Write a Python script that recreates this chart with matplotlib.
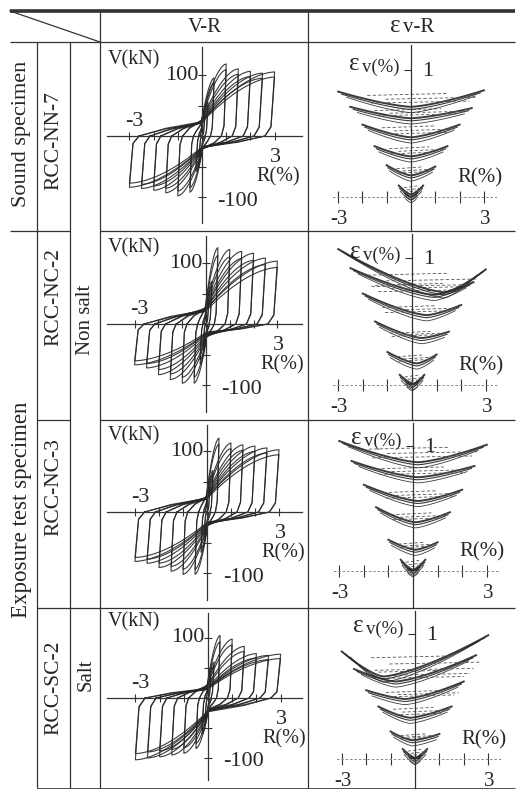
import matplotlib
matplotlib.use("Agg")
import matplotlib.pyplot as plt
import numpy as np

plt.rcParams['font.family'] = ['Liberation Serif', 'DejaVu Serif']

W, H = 522, 790

# specimen rows
row_names = ["RCC-NN-7", "RCC-NC-2", "RCC-NC-3", "RCC-SC-2"]
row_edges = [42, 231, 420, 608, 788]

# drift amplitudes of the cycles (%)
amps = [0.125, 0.25, 0.5, 1.0, 1.5, 2.0, 2.5, 3.0]

# V-R peaks, first cycle at each amplitude (kN)
vpos = [
    [35, 55, 95, 118, 110, 106, 103, 105],
    [40, 70, 125, 122, 119, 116, 108, 103],
    [40, 68, 121, 113, 110, 108, 105, 102],
    [35, 60, 104, 98, 86, 74, 71, 73],
]
vneg = [
    [-35, -58, -92, -98, -93, -89, -86, -84],
    [-40, -65, -97, -97, -91, -83, -72, -67],
    [-40, -66, -102, -102, -97, -91, -84, -81],
    [-35, -60, -84, -92, -95, -98, -100, -103],
]
cyc2 = [0.92, 0.9, 0.92, 0.9]   # second-cycle peak ratio

# ev-R: per amplitude, strain at -R end, +R end, minimum and where the minimum sits
ev_amps = [0.25, 0.5, 1.0, 1.5, 2.0, 2.5, 3.0]
ev_left = [
    [0.03, 0.09, 0.25, 0.40, 0.57, 0.71, 0.83],
    [0.03, 0.08, 0.26, 0.50, 0.72, 0.92, 1.07],
    [0.03, 0.09, 0.25, 0.51, 0.69, 0.88, 1.04],
    [0.03, 0.08, 0.22, 0.42, 0.55, 0.72, 0.86],
]
ev_right = [
    [0.03, 0.09, 0.24, 0.40, 0.57, 0.70, 0.84],
    [0.03, 0.08, 0.24, 0.42, 0.63, 0.81, 0.91],
    [0.03, 0.09, 0.23, 0.47, 0.65, 0.84, 1.01],
    [0.03, 0.08, 0.20, 0.42, 0.62, 0.83, 0.99],
]
ev_min = [
    [0.0, 0.02, 0.17, 0.32, 0.47, 0.62, 0.71],
    [0.0, 0.01, 0.17, 0.37, 0.55, 0.71, 0.73],
    [0.0, 0.01, 0.17, 0.39, 0.56, 0.75, 0.87],
    [0.0, 0.01, 0.15, 0.33, 0.48, 0.62, 0.66],
]
ev_mpos = [
    [0.0, 0.0, 0.0, 0.0, 0.0, 0.0, 0.0],
    [0.0, 0.05, 0.2, 0.4, 0.6, 0.9, 1.3],
    [0.0, 0.0, 0.1, 0.1, 0.2, 0.2, 0.2],
    [0.0, 0.0, -0.1, -0.2, -0.4, -0.8, -1.3],
]

# pixel layout of the plots: origin x, origin y, px per % drift, px per unit
vr_origin = [(202, 136), (206, 324), (207, 512), (208, 698)]
vr_rpx = [24.2, 23.8, 24.0, 24.2]
vr_vpx = [0.61, 0.61, 0.61, 0.60]
ev_origin = [(411, 197), (412, 385), (413, 571), (415, 759)]
ev_rpx = [24.3, 24.6, 24.6, 24.4]
ev_epx = [127, 127, 125, 125]

ink = '#262626'
fig = plt.figure(figsize=(W / 100, H / 100), dpi=100)
tab = fig.add_axes([0, 0, 1, 1])
tab.set_xlim(0, W)
tab.set_ylim(H, 0)
tab.axis('off')

def hl(y, x0, x1, lw=0.9):
    tab.plot([x0, x1], [y, y], color='#333333', lw=lw, solid_capstyle='butt')

def vl(x, y0, y1, lw=0.9):
    tab.plot([x, x], [y0, y1], color='#333333', lw=lw, solid_capstyle='butt')

hl(11, 10, 515, lw=2.6)
hl(42, 10, 515)
hl(231, 10, 70)
hl(231, 100, 515)
hl(420, 37, 70)
hl(420, 100, 515)
hl(608, 37, 515)
hl(788, 37, 515, lw=0.6)
vl(37, 42, 788)
vl(70, 42, 788)
vl(100, 11, 788)
vl(308, 11, 788)
tab.plot([10, 100], [11, 42], color='#333333', lw=0.9)

tab.text(205, 27, "V-R", ha='center', va='center', fontsize=15, color=ink)
tab.text(395, 26, "ε", ha='center', va='center', fontsize=18, color=ink)
tab.text(403, 28, "v-R", ha='left', va='center', fontsize=15, color=ink)

tab.text(22, 134, "Sound specimen", rotation=90, ha='center', va='center', fontsize=16, color=ink)
tab.text(22, 510, "Exposure test specimen", rotation=90, ha='center', va='center', fontsize=16.5, color=ink)
label_y = [141, 297, 487, 688]
for name, y in zip(row_names, label_y):
    tab.text(54, y, name, rotation=90, ha='center', va='center', fontsize=15.5, color=ink)
tab.text(86, 320, "Non salt", rotation=90, ha='center', va='center', fontsize=15, color=ink)
tab.text(86, 675, "Salt", rotation=90, ha='center', va='center', fontsize=15, color=ink)


def add_ax(px0, py0, px1, py1):
    return fig.add_axes([px0 / W, 1 - py1 / H, (px1 - px0) / W, (py1 - py0) / H])


def half(r_from, v_from, rp, vp, a=1.7):
    # reload branch from the pinched centre out to the peak
    t = np.linspace(0, 1, 40)
    return list(r_from + (rp - r_from) * t), list(v_from + (vp - v_from) * (1 - (1 - t) ** a))


def loop_path(rp, vp, rn, vn):
    s = min(rp, 1.0)
    xs, ys = [rn * 0.9 + 0.1, rn * 0.5], [0, 0.04 * vp + 0.08 * s * vp]
    hx, hy = half(-0.03, 0.22 * vp, rp, vp)
    xs += hx; ys += hy
    xs += [rp - 0.06 - 0.03 * rp, rp * 0.9 - 0.1, rp * 0.5]
    ys += [0.15 * vp, 0, 0.04 * vn + 0.08 * s * vn]
    hx, hy = half(0.03, 0.22 * vn, rn, vn)
    xs += hx; ys += hy
    xs += [rn + 0.06 + 0.03 * abs(rn), rn * 0.9 + 0.1]
    ys += [0.15 * vn, 0]
    return np.array(xs), np.array(ys)


for i in range(4):
    ox, oy = vr_origin[i]
    rpx, vpx = vr_rpx[i], vr_vpx[i]
    top, bot = row_edges[i] + 5, row_edges[i + 1] - 8
    x0, x1 = 107, 302
    ax = add_ax(x0, top, x1, bot)
    ax.set_xlim((x0 - ox) / rpx, (x1 - ox) / rpx)
    ax.set_ylim((oy - bot) / vpx, (oy - top) / vpx)
    ax.patch.set_alpha(0)
    for s in ['top', 'right']:
        ax.spines[s].set_visible(False)
    ax.spines['left'].set_position(('data', 0))
    ax.spines['bottom'].set_position(('data', 0))
    for s in ['left', 'bottom']:
        ax.spines[s].set_color('#333333')
        ax.spines[s].set_linewidth(0.9)
    ax.set_xticks([-3, -2, -1, 1, 2, 3])
    ax.set_yticks([-100, -50, 50, 100])
    ax.tick_params(direction='inout', length=6, width=0.8, color='#333333',
                   labelbottom=False, labelleft=False)
    for k, r in enumerate(amps):
        for f in (1.0, cyc2[i]):
            lx, ly = loop_path(r, vpos[i][k] * f, -r, vneg[i][k] * f)
            ax.plot(lx, ly, color=ink, lw=0.8, alpha=0.9)

    tab.text(108, oy - 76, "V(kN)", ha='left', va='center', fontsize=14.5, color=ink)
    tab.text(ox - 4, oy - 100 * vpx, "100", ha='right', va='center', fontsize=16, color=ink)
    tab.text(ox - 3 * rpx + 5, oy - 14, "-3", ha='center', va='center', fontsize=16, color=ink)
    tab.text(ox + 3 * rpx + 1, oy + 21, "3", ha='center', va='center', fontsize=16, color=ink)
    tab.text(ox + 76, oy + 41, "R(%)", ha='center', va='center', fontsize=14.5, color=ink)
    tab.text(ox + 36, oy + 100 * vpx + 4, "-100", ha='center', va='center', fontsize=16, color=ink)

for i in range(4):
    ox, oy = ev_origin[i]
    rpx, epx = ev_rpx[i], ev_epx[i]
    top, bot = row_edges[i] + 3, row_edges[i + 1]
    x0, x1 = 320, 510
    ax = add_ax(x0, top, x1, bot)
    ax.set_xlim((x0 - ox) / rpx, (x1 - ox) / rpx)
    ax.set_ylim((oy - bot) / epx, (oy - top) / epx)
    ax.patch.set_alpha(0)
    for s in ['top', 'right']:
        ax.spines[s].set_visible(False)
    ax.spines['left'].set_position(('data', 0))
    ax.spines['bottom'].set_position(('data', 0))
    ax.spines['left'].set_color('#333333')
    ax.spines['left'].set_linewidth(0.9)
    ax.spines['bottom'].set_color('#888888')
    ax.spines['bottom'].set_linewidth(0.7)
    ax.spines['bottom'].set_linestyle((0, (1.5, 3)))
    ax.spines['bottom'].set_bounds(-3.2, 3.5)
    ax.set_xticks([-3, -2, -1, 1, 2, 3])
    ax.set_yticks([1])
    ax.tick_params(axis='x', direction='inout', length=8, width=0.8, color='#333333', labelbottom=False)
    ax.tick_params(axis='y', direction='out', length=5, width=0.8, color='#333333', labelleft=False)
    for k, r in enumerate(ev_amps):
        eL, eR, c, m = ev_left[i][k], ev_right[i][k], ev_min[i][k], ev_mpos[i][k]
        for sc, dy, lw in [(1.0, 0.0, 1.4), (0.95, -0.02, 0.8), (0.88, -0.045, 0.6)]:
            xs = np.linspace(-r * sc, r * sc, 60)
            ys = np.where(xs < m,
                          c + (eL - c) * np.clip((m - xs) / (m + r * sc), 0, 1) ** 1.4,
                          c + (eR - c) * np.clip((xs - m) / (r * sc - m), 0, 1) ** 1.4)
            ax.plot(xs, ys + dy, color=ink, lw=lw, alpha=0.9)
        if r >= 0.5:
            for fr, x_a, x_b in [(0.25, -0.55, 0.8), (0.5, -0.35, 0.9), (0.75, -0.6, 0.5)]:
                lev = c + fr * (min(eL, eR) - c)
                ax.plot([x_a * r, x_b * r], [lev, lev + 0.015], color='#555555', lw=0.6,
                        dashes=(4, 2.5))

    tab.text(ox - 57, oy - 133, "ε", ha='center', va='center', fontsize=18, color=ink)
    tab.text(ox - 49, oy - 130, "v(%)", ha='left', va='center', fontsize=13.5, color=ink)
    tab.text(ox + 17, oy - epx + 2, "1", ha='center', va='center', fontsize=16, color=ink)
    tab.text(ox + 69, oy - 19, "R(%)", ha='center', va='center', fontsize=15, color=ink)
    tab.text(ox - 3 * rpx + 1, oy + 23, "-3", ha='center', va='center', fontsize=15, color=ink)
    tab.text(ox + 3 * rpx + 1, oy + 23, "3", ha='center', va='center', fontsize=15, color=ink)

fig.savefig("out.png", dpi=100)
